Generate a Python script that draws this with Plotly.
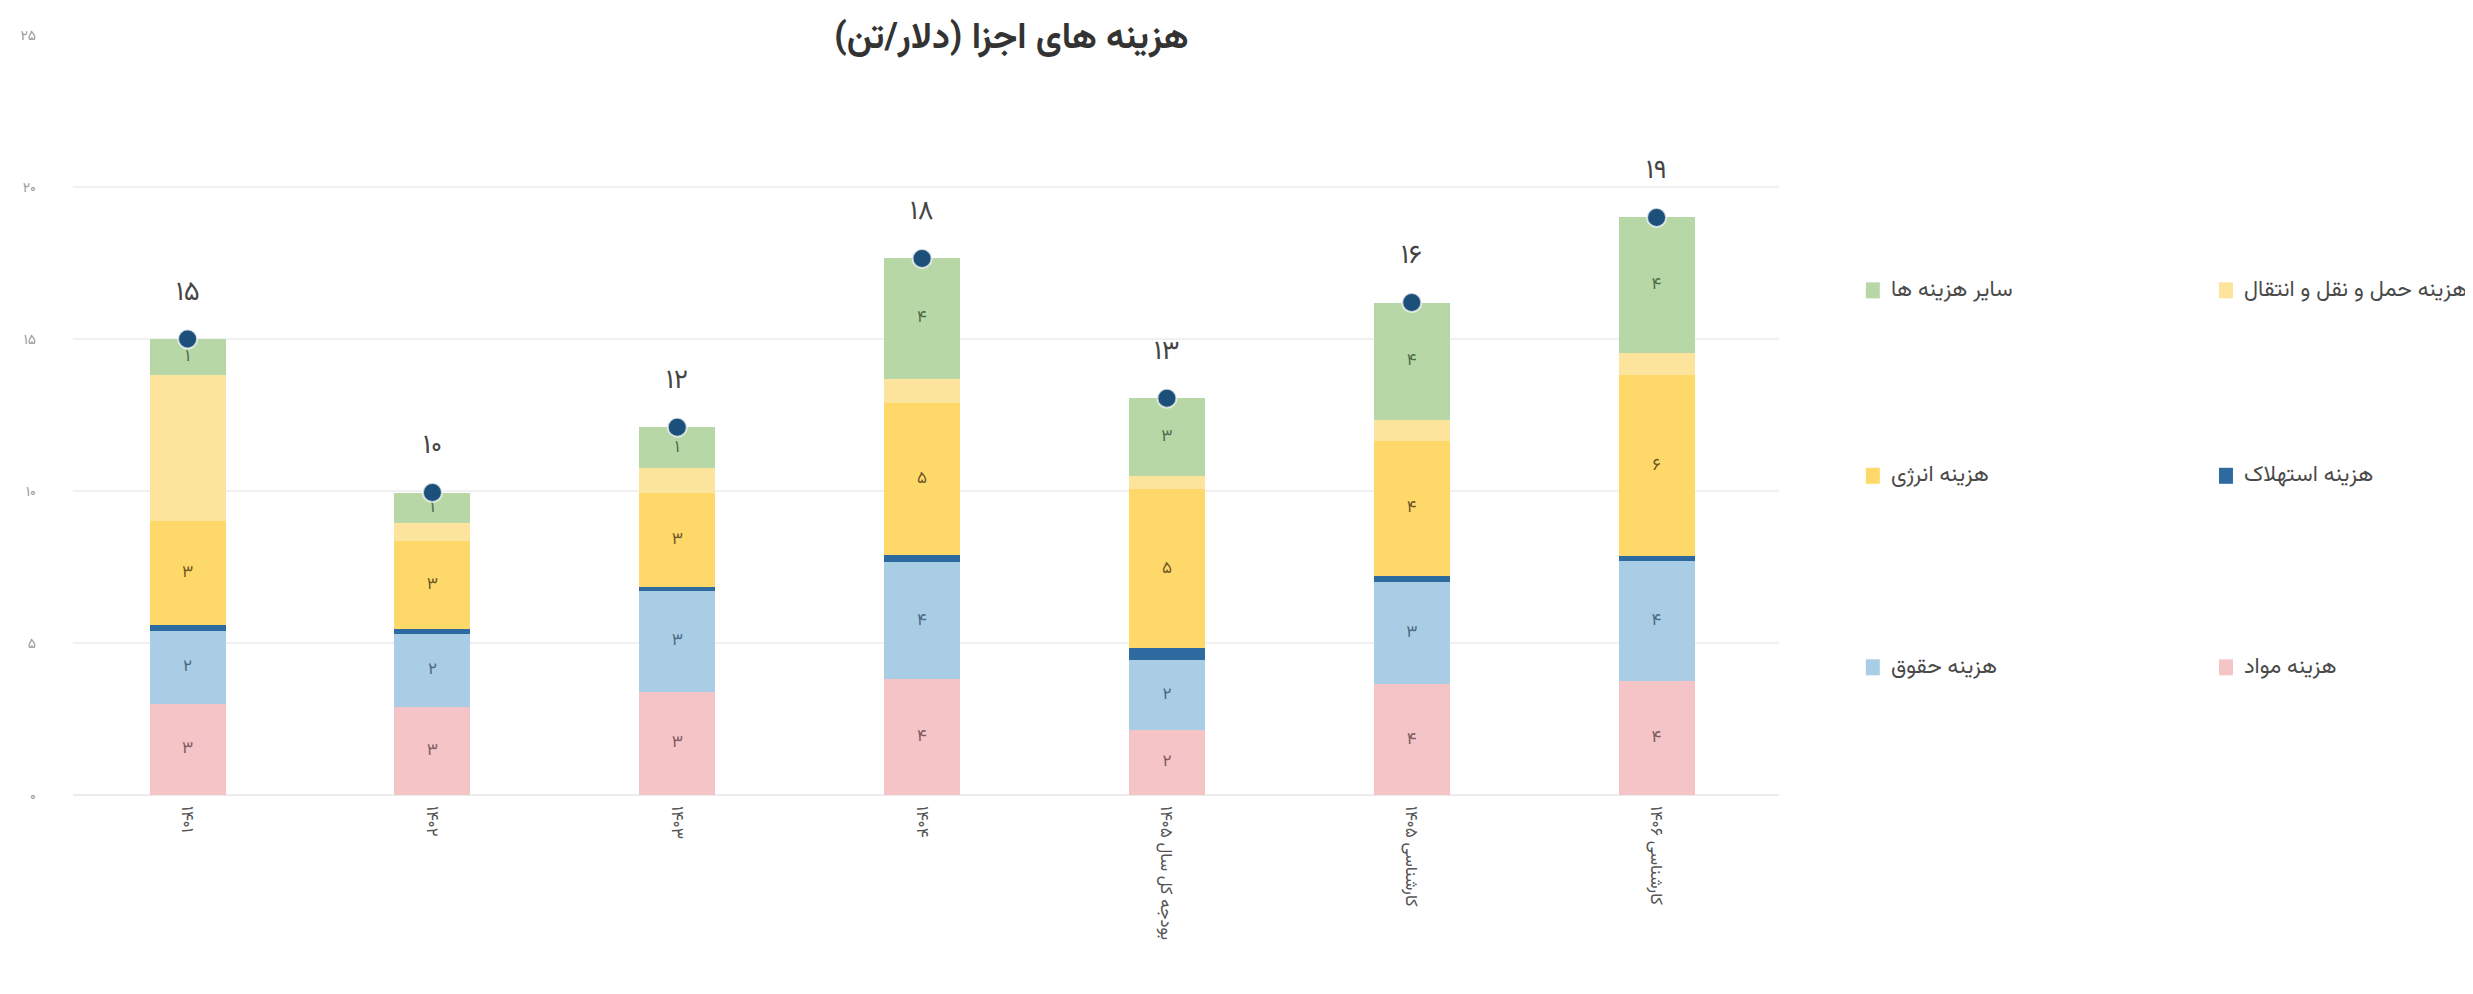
import plotly.graph_objects as go

categories = ["۱۴۰۱", "۱۴۰۲", "۱۴۰۳", "۱۴۰۴", "بودجه کل سال ۱۴۰۵", "کارشناسی ۱۴۰۵", "کارشناسی ۱۴۰۶"]

materials = [3.0, 2.9, 3.4, 3.8, 2.15, 3.65, 3.75]
salaries = [2.4, 2.4, 3.3, 3.85, 2.3, 3.35, 3.95]
depreciation = [0.2, 0.15, 0.15, 0.25, 0.4, 0.2, 0.15]
energy = [3.4, 2.9, 3.1, 5.0, 5.2, 4.45, 5.95]
transport = [4.8, 0.6, 0.8, 0.8, 0.45, 0.7, 0.75]
other = [1.2, 1.0, 1.35, 3.95, 2.55, 3.85, 4.45]

y_tick_vals = [0, 5, 10, 15, 20, 25]
y_tick_text = ["۰", "۵", "۱۰", "۱۵", "۲۰", "۲۵"]

title_text = "هزینه های اجزا (دلار/تن)"

FONT = "Vazirmatn, DejaVu Sans, sans-serif"
FA = str.maketrans("0123456789", "۰۱۲۳۴۵۶۷۸۹")


def fa(v):
    return str(int(round(v + 1e-9))).translate(FA)


series = [
    ("هزینه مواد", materials, "#f4c4c7", "#7d5b60", True),
    ("هزینه حقوق", salaries, "#aacde6", "#4c6780", True),
    ("هزینه استهلاک", depreciation, "#2c6aa0", "#ffffff", False),
    ("هزینه انرژی", energy, "#fed96a", "#6a5628", True),
    ("هزینه حمل و نقل و انتقال", transport, "#fde49c", "#6a5628", False),
    ("سایر هزینه ها", other, "#b7d7a7", "#4e6b47", True),
]

x_idx = list(range(len(categories)))
fig = go.Figure()
for name, vals, col, tcol, show_txt in series:
    fig.add_trace(go.Bar(
        x=x_idx, y=vals, name=name, marker=dict(color=col, line=dict(width=0)),
        width=0.31,
        text=[fa(v) for v in vals] if show_txt else None,
        textposition="inside" if show_txt else "none",
        insidetextanchor="middle", textangle=0, constraintext="none",
        textfont=dict(size=17, color=tcol, family=FONT),
        showlegend=False,
    ))

totals = [sum(s[1][i] for s in series) for i in x_idx]
fig.add_trace(go.Scatter(
    x=x_idx, y=totals, mode="markers",
    marker=dict(size=19, color="#1c4f7a", line=dict(width=2, color="rgba(255,255,255,0.7)")),
    showlegend=False,
))
for i, t in zip(x_idx, totals):
    fig.add_annotation(x=i, y=t, text=fa(t), showarrow=False, yshift=46,
                       font=dict(size=27, color="#444", family=FONT))

fig.update_layout(
    barmode="stack",
    width=2465, height=986,
    margin=dict(l=60, r=694, t=27, b=199),
    plot_bgcolor="white", paper_bgcolor="white",
    showlegend=False,
    font=dict(family=FONT),
)
fig.update_xaxes(
    tickmode="array", tickvals=x_idx, ticktext=categories, tickangle=90,
    range=[-0.468, 6.5], showgrid=False, zeroline=False, showline=False,
    tickfont=dict(size=17, color="#555", family=FONT), ticks="", ticklabelstandoff=10,
)
fig.update_yaxes(
    range=[0, 25], tickmode="array", tickvals=y_tick_vals, ticktext=y_tick_text,
    showgrid=True, gridcolor="#f0f0f0", gridwidth=1.5, zeroline=True, zerolinecolor="#ececec",
    tickfont=dict(size=14, color="#999", family=FONT), ticklabelstandoff=36,
)

fig.add_annotation(xref="paper", yref="paper", x=0.550, y=1.0, yshift=-4,
                   text="<b>" + title_text + "</b>",
                   showarrow=False, xanchor="center", yanchor="middle",
                   font=dict(size=36, color="#333", family=FONT))

legend_items = [
    ("هزینه حمل و نقل و انتقال", "#fde49c", 1.262, 0.664),
    ("سایر هزینه ها", "#b7d7a7", 1.055, 0.664),
    ("هزینه استهلاک", "#2c6aa0", 1.262, 0.420),
    ("هزینه انرژی", "#fed96a", 1.055, 0.420),
    ("هزینه مواد", "#f4c4c7", 1.262, 0.168),
    ("هزینه حقوق", "#aacde6", 1.055, 0.168),
]
for name, col, lx, ly in legend_items:
    fig.add_shape(type="rect", xref="paper", yref="paper", xsizemode="pixel", ysizemode="pixel",
                  xanchor=lx, yanchor=ly, x0=-7, x1=7, y0=-8, y1=8,
                  fillcolor=col, line=dict(width=0))
    fig.add_annotation(xref="paper", yref="paper", x=lx, y=ly, xshift=16, text=name,
                       showarrow=False, xanchor="left", yanchor="middle",
                       font=dict(size=22, color="#4a4a4a", family=FONT))

fig.add_shape(type="rect", xref="paper", yref="paper", xsizemode="pixel", ysizemode="pixel",
              xanchor=0, yanchor=1.0, x0=-80, x1=2500, y0=32, y1=35,
              fillcolor="#bbbbbb", line=dict(width=0))

fig.write_html("out.html")
